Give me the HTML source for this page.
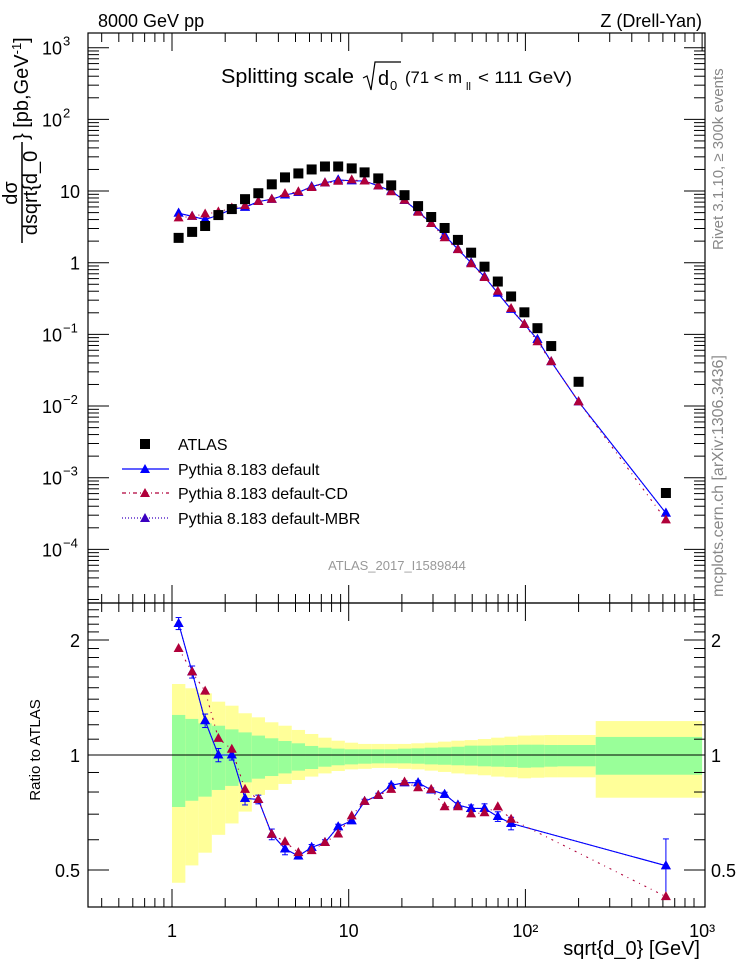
<!DOCTYPE html>
<html><head><meta charset="utf-8"><style>
html,body{margin:0;padding:0;background:#fff;}
svg{display:block;font-family:"Liberation Sans",sans-serif;}
</style></head><body>
<svg id="chart" width="746" height="972" viewBox="0 0 746 972" xmlns="http://www.w3.org/2000/svg">
<g id="bands"></g>
<g id="grid"></g>
<g id="marks"></g>
<text x="98" y="27" font-size="18">8000 GeV pp</text>
<text x="702" y="27" font-size="18" text-anchor="end">Z (Drell-Yan)</text>
<g>
<text x="221" y="83" font-size="20" textLength="133" lengthAdjust="spacingAndGlyphs">Splitting scale</text>
<path d="M363,78 L367,76 L371,90 L375,62 L401,62" fill="none" stroke="#000" stroke-width="1.2"/>
<text x="378" y="85" font-size="20">d</text><text x="390" y="90" font-size="13">0</text>
<text x="405" y="83" font-size="17" textLength="57" lengthAdjust="spacingAndGlyphs">(71 &lt; m</text><text x="466" y="90" font-size="11">ll</text><text x="478" y="83" font-size="17" textLength="94" lengthAdjust="spacingAndGlyphs">&lt; 111 GeV)</text>
</g>
<g font-size="20">
<text transform="translate(17,193) rotate(-90)" text-anchor="middle">dσ</text>
<line x1="22" y1="243" x2="22" y2="142" stroke="#000" stroke-width="1.5"/>
<text transform="translate(37,193) rotate(-90)" text-anchor="middle">dsqrt{d_0</text>
<text transform="translate(28,140) rotate(-90)" text-anchor="start">} [pb,GeV<tspan font-size="13" dy="-7">-1</tspan><tspan dy="7">]</tspan></text>
</g>
<text transform="translate(723,250) rotate(-90)" font-size="15" fill="#888">Rivet 3.1.10, ≥ 300k events</text>
<text transform="translate(723,597) rotate(-90)" font-size="16" fill="#888">mcplots.cern.ch [arXiv:1306.3436]</text>
<text x="397" y="570" font-size="13" fill="#999" text-anchor="middle">ATLAS_2017_I1589844</text>
<text transform="translate(40,750) rotate(-90)" font-size="15" text-anchor="middle">Ratio to ATLAS</text>
<text x="700" y="955" font-size="20" text-anchor="end">sqrt{d_0} [GeV]</text>
<g font-size="16">
<g><rect x="140" y="439" width="10" height="10" fill="#000"/><text x="178" y="450">ATLAS</text></g>
<g><line x1="122" y1="469" x2="169" y2="469" stroke="#00f" stroke-width="1.2"/><path d="M145,464 L150,473 L140,473Z" fill="#00f"/><text x="178" y="475">Pythia 8.183 default</text></g>
<g><line x1="122" y1="493" x2="169" y2="493" stroke="#b0003a" stroke-width="1.2" stroke-dasharray="4,3,1,3"/><path d="M145,488 L150,497 L140,497Z" fill="#b0003a"/><text x="178" y="499">Pythia 8.183 default-CD</text></g>
<g><line x1="122" y1="518" x2="169" y2="518" stroke="#3a00c0" stroke-width="1.2" stroke-dasharray="1,2"/><path d="M145,513 L150,522 L140,522Z" fill="#3a00c0"/><text x="178" y="524">Pythia 8.183 default-MBR</text></g>
</g>
</svg>
<script>
// ---- data ----
const xPts = [1.09,1.30,1.54,1.83,2.18,2.59,3.08,3.67,4.36,5.19,6.17,7.34,8.72,10.4,12.3,14.7,17.4,20.7,24.7,29.3,34.9,41.5,49.3,58.7,69.8,83.0,98.7,117,140,200,624];
const atlas = [2.22,2.69,3.25,4.62,5.60,7.70,9.32,12.4,15.5,17.6,20.0,22.0,22.0,20.7,18.2,15.0,12.0,8.75,6.16,4.34,3.05,2.08,1.38,0.88,0.546,0.338,0.203,0.122,0.0687,0.0218,0.000612];
const mcDefault = [4.91,4.44,4.00,4.62,5.60,5.93,7.13,7.69,8.80,9.57,11.5,13.0,14.3,13.9,13.8,11.8,10.0,7.40,5.21,3.52,2.41,1.54,1.00,0.638,0.377,0.224,0.138,0.085,0.0417,0.0115,0.000321];
const mcCD = [4.22,4.44,4.78,5.11,5.80,6.26,7.13,7.69,9.19,9.77,11.2,13.0,13.7,14.3,13.8,11.8,9.76,7.44,5.06,3.53,2.23,1.52,0.967,0.621,0.400,0.230,0.138,0.079,0.0417,0.0115,0.000258];
const mcMBR = [4.91,4.44,4.00,4.62,5.60,5.93,7.13,7.69,8.80,9.57,11.5,13.0,14.3,13.9,13.8,11.8,10.0,7.40,5.21,3.52,2.41,1.54,1.00,0.638,0.377,0.224,0.138,0.085,0.0417,0.0115,0.000321];
// ratio panel (points present)
const rX = [1.09,1.30,1.54,1.83,2.18,2.59,3.08,3.67,4.36,5.19,6.17,7.34,8.72,10.4,12.3,14.7,17.4,20.7,24.7,29.3,34.9,41.5,49.3,58.7,69.8,83.0,624];
const ratioDefault = [2.21,1.65,1.23,1.00,1.00,0.77,0.765,0.62,0.568,0.544,0.573,0.590,0.649,0.673,0.756,0.784,0.833,0.846,0.846,0.81,0.789,0.740,0.725,0.725,0.690,0.662,0.513];
const ratioDefaultErr = [0.08,0.06,0.05,0.04,0.03,0.03,0.02,0.02,0.02,0.01,0.01,0.01,0.01,0.01,0.01,0.01,0.01,0.01,0.01,0.01,0.01,0.01,0.015,0.02,0.02,0.025,0.09];
const ratioCD = [1.90,1.65,1.47,1.105,1.035,0.813,0.765,0.62,0.593,0.555,0.562,0.59,0.621,0.693,0.756,0.784,0.813,0.850,0.821,0.813,0.732,0.732,0.701,0.706,0.732,0.679,0.426];
const ratioMBR = [2.21,1.65,1.23,1.00,1.00,0.77,0.765,0.62,0.568,0.544,0.573,0.590,0.649,0.673,0.756,0.784,0.833,0.846,0.846,0.81,0.789,0.740,0.725,0.725,0.690,0.662,0.513];
// ATLAS uncertainty bands
const binEdges = [1.0,1.19,1.41,1.68,2.0,2.38,2.83,3.36,4.0,4.76,5.66,6.73,8.0,9.51,11.3,13.5,16.0,19.0,22.6,26.9,32.0,38.1,45.3,53.8,64.0,76.1,90.5,107.6,128,152,250,1000];
const yellowHi = [1.534,1.495,1.450,1.379,1.346,1.286,1.255,1.218,1.193,1.163,1.135,1.110,1.090,1.077,1.069,1.069,1.069,1.069,1.073,1.077,1.084,1.090,1.094,1.101,1.110,1.117,1.124,1.126,1.128,1.128,1.227];
const yellowLo = [0.463,0.514,0.555,0.618,0.662,0.711,0.786,0.810,0.840,0.860,0.878,0.895,0.908,0.917,0.920,0.925,0.925,0.920,0.917,0.910,0.903,0.895,0.890,0.885,0.878,0.874,0.869,0.872,0.874,0.874,0.773];
const greenHi = [1.273,1.243,1.210,1.193,1.167,1.146,1.124,1.106,1.088,1.073,1.056,1.045,1.039,1.035,1.035,1.035,1.035,1.039,1.041,1.045,1.047,1.051,1.058,1.058,1.060,1.062,1.064,1.064,1.062,1.062,1.115];
const greenLo = [0.731,0.759,0.778,0.810,0.830,0.848,0.867,0.881,0.895,0.910,0.919,0.932,0.940,0.945,0.949,0.951,0.951,0.951,0.949,0.945,0.943,0.940,0.938,0.934,0.932,0.930,0.926,0.928,0.932,0.934,0.888];
const xTickLabels = ["1","10","10²","10³"];

// ---- axes ----
const L=88,R=705,T=33,M=603,B=907;
const X = v => 172 + 176.7*Math.log10(v);
const Y = v => 262.7 - 71.67*Math.log10(v);
const RY = v => 755 - 382*Math.log10(v);
const NS="http://www.w3.org/2000/svg";
function mk(tag, attrs, parent){const e=document.createElementNS(NS,tag);for(const k in attrs)e.setAttribute(k,attrs[k]);parent.appendChild(e);return e;}
const grid=document.getElementById('grid'), marks=document.getElementById('marks'), bands=document.getElementById('bands');

// bands
for(let i=0;i<yellowHi.length;i++){
  const x1=Math.max(L,X(binEdges[i])), x2=Math.min(R,X(binEdges[i+1]));
  const y=mk('rect',{x:x1,y:RY(yellowHi[i]),width:x2-x1,height:RY(yellowLo[i])-RY(yellowHi[i]),fill:'#ffff99'},bands);
  
  
  const g=mk('rect',{x:x1,y:RY(greenHi[i]),width:x2-x1,height:RY(greenLo[i])-RY(greenHi[i]),fill:'#99ff99'},bands);
  
  
}
mk('line',{x1:L,y1:RY(1),x2:R,y2:RY(1),stroke:'#000','stroke-width':1},bands);

// frames
let f1=mk('rect',{x:L,y:T,width:R-L,height:M-T,fill:'none',stroke:'#000','stroke-width':1.2},grid);


let f2=mk('rect',{x:L,y:M,width:R-L,height:B-M,fill:'none',stroke:'#000','stroke-width':1.2},grid);



// x ticks
for(let d=-1; d<=2; d++){
  for(let k=1;k<=9;k++){
    const v=k*Math.pow(10,d); const x=X(v);
    if(x<L||x>R+0.5) continue;
    const len = k===1?18:9;
    [[T,1],[M,-1],[M,1],[B,-1]].forEach(([y0,s])=>mk('line',{x1:x,y1:y0,x2:x,y2:y0+s*len,stroke:'#000','stroke-width':1},grid));
  }
}
mk('line',{x1:X(1000),y1:T,x2:X(1000),y2:T+18,stroke:'#000'},grid);
[1,10,100,1000].forEach((v,i)=>{
  const t=mk('text',{x:X(v),y:937,'font-size':18,'text-anchor':'middle'},grid);
  t.textContent=xTickLabels[i];
  
  
});

// y ticks main
for(let d=-5; d<=3; d++){
  for(let k=1;k<=9;k++){
    const y=Y(k*Math.pow(10,d)); if(y<T||y>M) continue;
    const len=k===1?21:11;
    mk('line',{x1:L,y1:y,x2:L+len,y2:y,stroke:'#000'},grid);
    mk('line',{x1:R,y1:y,x2:R-len,y2:y,stroke:'#000'},grid);
  }
}
const yLab=[[3,'10','3'],[2,'10','2'],[1,'10',''],[0,'1',''],[-1,'10','−1'],[-2,'10','−2'],[-3,'10','−3'],[-4,'10','−4']];
yLab.forEach(([d,b,e])=>{
  const t=mk('text',{x:e?62:80,y:Y(Math.pow(10,d))+7,'font-size':18,'text-anchor':'end'},grid);
  t.textContent=b;
  
  
  if(e){const s=mk('text',{x:63,y:Y(Math.pow(10,d))-2,'font-size':13},grid);s.textContent=e;}
});

// ratio y ticks
for(let v=0.4; v<=2.51; v+=0.1){
  const vv=Math.round(v*10)/10; const y=RY(vv); if(y<M||y>B) continue;
  const major=(vv===0.5||vv===1||vv===2); const len=major?21:11;
  mk('line',{x1:L,y1:y,x2:L+len,y2:y,stroke:'#000'},grid);
  mk('line',{x1:R,y1:y,x2:R-len,y2:y,stroke:'#000'},grid);
}
[[2,'2'],[1,'1'],[0.5,'0.5']].forEach(([v,s])=>{
  const a=mk('text',{x:80,y:RY(v)+7,'font-size':18,'text-anchor':'end'},grid);a.textContent=s;
  
  
  const b=mk('text',{x:711,y:RY(v)+7,'font-size':18},grid);b.textContent=s;
  
  
});

// series helpers
function tri(x,y,c,p){const e=mk('path',{d:`M${x},${y-5.5} L${x+5},${y+3.5} L${x-5},${y+3.5}Z`,fill:c},p);return e;}
function line(xs,ys,fx,fy,c,dash,name){
  const pts=xs.map((x,i)=>fx(x).toFixed(1)+','+fy(ys[i]).toFixed(1)).join(' ');
  const e=mk('polyline',{points:pts,fill:'none',stroke:c,'stroke-width':1.1},marks);
  if(dash) e.setAttribute('stroke-dasharray',dash);
  
  
}
// main panel
line(xPts,mcMBR,X,Y,'#3a00c0','1,2','mbr-line');
xPts.forEach((x,i)=>{const e=tri(X(x),Y(mcMBR[i]),'#3a00c0',marks);});
line(xPts,mcDefault,X,Y,'#0000ff',null,'default-line');
xPts.forEach((x,i)=>{const e=tri(X(x),Y(mcDefault[i]),'#0000ff',marks);});
line(xPts,mcCD,X,Y,'#b0003a','2,5,1,5','cd-line');
xPts.forEach((x,i)=>{const e=tri(X(x),Y(mcCD[i]),'#b0003a',marks);});
xPts.forEach((x,i)=>{
  const e=mk('rect',{x:X(x)-5,y:Y(atlas[i])-5,width:10,height:10,fill:'#000'},marks);
  
  
});
// ratio panel
line(rX,ratioMBR,X,RY,'#3a00c0','1,2','mbr-ratio-line');
line(rX,ratioDefault,X,RY,'#0000ff',null,'default-ratio-line');
line(rX,ratioCD,X,RY,'#b0003a','2,5,1,5','cd-ratio-line');
rX.forEach((x,i)=>{
  const px=X(x), e=ratioDefaultErr[i];
  mk('line',{x1:px,y1:RY(ratioDefault[i]+e),x2:px,y2:RY(ratioDefault[i]-e),stroke:'#0000ff'},marks);
  mk('line',{x1:px-3,y1:RY(ratioDefault[i]+e),x2:px+3,y2:RY(ratioDefault[i]+e),stroke:'#0000ff'},marks);
  mk('line',{x1:px-3,y1:RY(ratioDefault[i]-e),x2:px+3,y2:RY(ratioDefault[i]-e),stroke:'#0000ff'},marks);
  const a=tri(px,RY(ratioMBR[i]),'#3a00c0',marks);
  
  
  const b=tri(px,RY(ratioDefault[i]),'#0000ff',marks);
  
  
  const c=tri(px,RY(ratioCD[i]),'#b0003a',marks);
  
  
});
</script>
</body></html>
